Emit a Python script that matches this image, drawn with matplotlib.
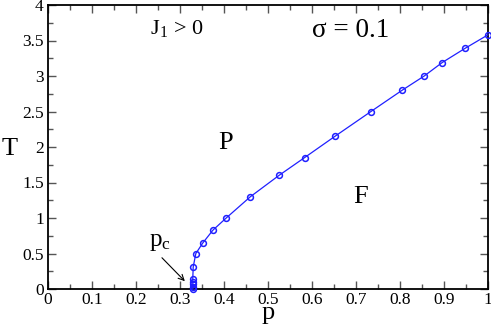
import numpy as np
import matplotlib
matplotlib.use("Agg")
import matplotlib.pyplot as plt
from matplotlib.ticker import MultipleLocator

# phase boundary T(p)
p_vals = [0.329, 0.329, 0.329, 0.329, 0.329, 0.330, 0.336, 0.352, 0.375,
          0.405, 0.460, 0.525, 0.583, 0.652, 0.734, 0.805, 0.855, 0.896, 0.948, 1.0]
T_vals = [0.0, 0.035, 0.07, 0.105, 0.14, 0.31, 0.50, 0.65, 0.83,
          1.0, 1.30, 1.60, 1.85, 2.15, 2.50, 2.80, 3.00, 3.19, 3.39, 3.58]

x_ticks = [0, 0.1, 0.2, 0.3, 0.4, 0.5, 0.6, 0.7, 0.8, 0.9, 1]
x_labels = ["0", "0.1", "0.2", "0.3", "0.4", "0.5", "0.6", "0.7", "0.8", "0.9", "1"]
y_ticks = [0, 0.5, 1, 1.5, 2, 2.5, 3, 3.5, 4]
y_labels = ["0", "0.5", "1", "1.5", "2", "2.5", "3", "3.5", "4"]

plt.rcParams['font.family'] = ['Liberation Serif', 'DejaVu Serif']
plt.rcParams['mathtext.fontset'] = 'stix'

fig = plt.figure(figsize=(4.91, 3.27), dpi=100)
ax = fig.add_axes([48 / 491, 1 - 289 / 327, 440 / 491, 284 / 327])

ax.plot(p_vals, T_vals, color='#2020ff', lw=0.9, marker='o', ms=4.2,
        mfc='none', mec='#2020ff', mew=1.1, clip_on=False, zorder=3)

ax.set_xlim(0, 1)
ax.set_ylim(0, 4)
ax.set_xticks(x_ticks)
ax.set_xticklabels(x_labels)
ax.set_yticks(y_ticks)
ax.set_yticklabels(y_labels)
ax.xaxis.set_minor_locator(MultipleLocator(0.05))
ax.yaxis.set_minor_locator(MultipleLocator(0.25))
ax.tick_params(which='both', direction='in', top=True, right=True, labelsize=12.5,
               color='#555555')
ax.tick_params(which='major', length=6, width=1)
ax.tick_params(which='minor', length=3.5, width=1)
ax.tick_params(axis='x', pad=2)
ax.tick_params(axis='y', pad=3)
for s in ax.spines.values():
    s.set_linewidth(1.3)

fig.text(10 / 491, 1 - 149 / 327, "T", fontsize=19, ha='center', va='center')
fig.text(268 / 491, 1 - 319 / 327, "p", fontsize=19, ha='center', va='baseline')

ax.text(0.232, 3.67, r"J$_\mathregular{1}$ > 0", fontsize=16, ha='left', va='center')
ax.text(0.60, 3.64, "σ = 0.1", fontsize=19.5, ha='left', va='center')
ax.text(0.403, 2.05, "P", fontsize=19, ha='center', va='center')
ax.text(0.71, 1.30, "F", fontsize=19, ha='center', va='center')
ax.text(0.255, 0.66, r"p$_\mathregular{c}$", fontsize=18, ha='center', va='center')
ax.annotate("", xy=(0.311, 0.11), xytext=(0.259, 0.44),
            arrowprops=dict(arrowstyle='->', color='black', lw=0.8,
                            shrinkA=0, shrinkB=0))

fig.savefig("out.png", dpi=100)
